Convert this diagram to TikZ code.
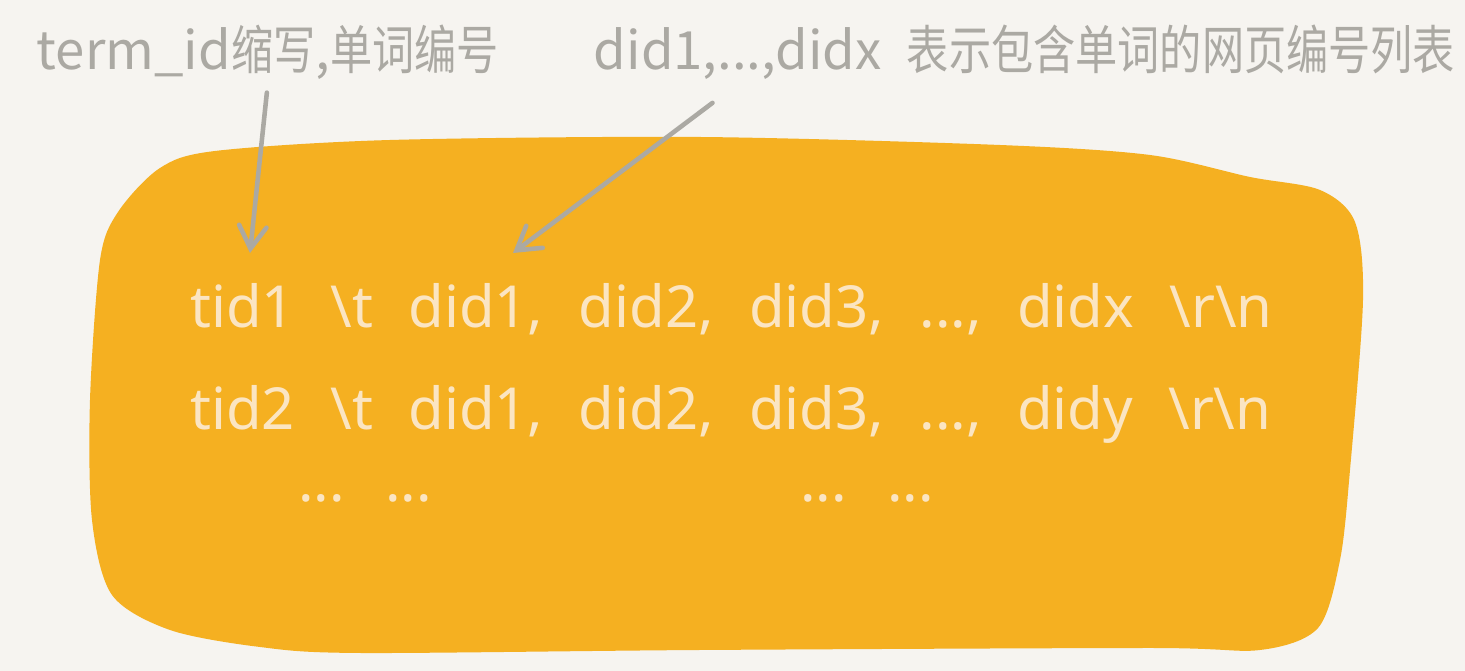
\documentclass[tikz,border=0pt]{standalone}
\usepackage{fontspec}
\newfontfamily\notelatin{Noto Sans CJK SC}
\newfontfamily\notecjk[FakeStretch=0.8]{Noto Sans CJK SC}
\newfontfamily\chalkfont[WordSpace=2.35]{Noto Sans}
\usepackage{xcolor}
\definecolor{PaperBg}{HTML}{F6F4F0}
\definecolor{BlobOrange}{HTML}{F5B021}
\definecolor{CreamInk}{HTML}{FBE5C2}
\definecolor{PencilGray}{HTML}{ABA9A3}
\usetikzlibrary{arrows.meta,positioning}
\tikzset{
  notelabel/.style={
    text=PencilGray,
    anchor=base west,
    inner sep=2pt,
    font=\notelatin\fontsize{30pt}{36pt}\selectfont
  },
  blobtext/.style={
    text=CreamInk,
    anchor=base west,
    inner sep=0pt,
    font=\chalkfont\fontsize{33pt}{40pt}\selectfont
  },
  pointer/.style={
    draw=PencilGray,
    line width=2.6pt,
    line cap=round,
    -{Straight Barb[length=4.5mm,width=5.5mm,line cap=round]}
  }
}

\begin{document}
\begin{tikzpicture}[x=0.02cm,y=-0.02cm]
  \fill[PaperBg] (0,0) rectangle (1465,671);
  \useasboundingbox (0,0) rectangle (1465,671);
  \fill[BlobOrange] plot[smooth cycle, tension=0.5] coordinates {
    (100,260) (118,212) (160,168) (215,151) (390,140) (700,137) (1000,145)
    (1150,155) (1250,177) (1320,190) (1355,222) (1363,300) (1350,470)
    (1340,560) (1318,628) (1260,650) (1150,648) (700,650) (360,653)
    (260,647) (170,630) (112,595) (92,520) (90,400)};
  \node[notelabel] (termid) at (33,70) {term\_id{\notecjk 缩写},{\notecjk 单词编号}};
  \node[notelabel] (didrange) at (590,70) {did1,...,didx};
  \node[notelabel, font=\notecjk\fontsize{30pt}{36pt}\selectfont] (didnote) at ([xshift=0.35cm]didrange.base east) {表示包含单词的网页编号列表};
  \foreach \n/\last/\y in {1/x/328,2/y/430}{
    \node[blobtext] (row\n) at (190,\y) {tid\n{} \textbackslash t did1, did2, did3, ..., did\last\ \textbackslash r\textbackslash n};
  }
  \node[blobtext] (gapleft) at (298,502) {... ...};
  \node[blobtext] (gapright) at (800,502) {... ...};
  \coordinate (tidmark) at (250,253);
  \coordinate (didmark) at (513,253);
  \draw[pointer, shorten <=5pt] (termid.south) -- (tidmark);
  \draw[pointer, shorten <=18pt] (didrange.south) -- (didmark);
\end{tikzpicture}
\end{document}
